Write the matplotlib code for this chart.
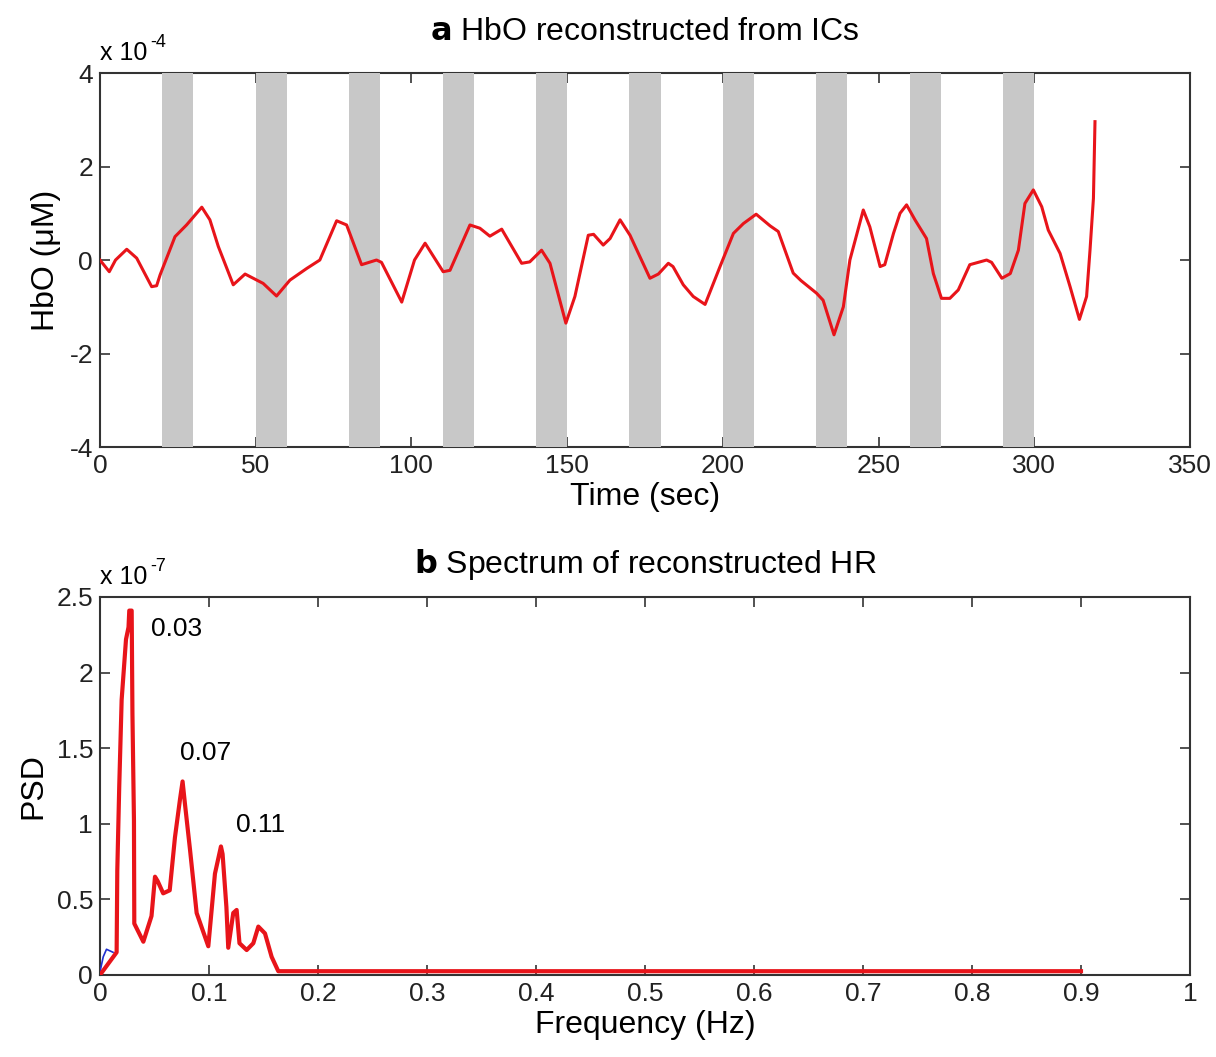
import matplotlib
matplotlib.use("Agg")
import matplotlib.pyplot as plt
import numpy as np

plt.rcParams['font.family'] = ['Liberation Sans', 'DejaVu Sans']
plt.rcParams['axes.unicode_minus'] = False

# panel a: HbO trace (units of 1e-4 uM)
time_sec = [0, 3, 5, 8.6, 11.8, 16.6, 18.2, 19.3, 24.1, 27.8, 32.7, 35.3, 38, 42.8,
            46.6, 52.4, 56.7, 61, 66.4, 70.6, 76, 79.2, 84, 88.8, 90.4, 96.9, 101,
            104.4, 110.2, 112.4, 118.8, 122, 125.2, 129, 135.4, 138, 141.8, 144.5,
            149.6, 152.5, 156.8, 158.5, 161.6, 163.8, 167, 170.2, 176.6, 179.3,
            182.5, 184, 187.3, 190.5, 194.3, 199.1, 203.4, 206.6, 210.7, 215.2,
            217.8, 222.6, 225.1, 230.1, 232.2, 235.7, 238.7, 240.8, 245.1, 247.2,
            250.5, 252, 254.8, 256.9, 259, 261.7, 265.4, 267.6, 270.2, 272.9,
            275.6, 279.3, 284.7, 286.3, 289.6, 292.3, 294.9, 297, 299.7, 302.4,
            304.5, 308.3, 311.5, 314.5, 316.8, 317.9, 319, 319.5]
hbo = [0.0, -0.25, 0.0, 0.23, 0.04, -0.57, -0.55, -0.32, 0.5, 0.75, 1.13, 0.86, 0.29,
       -0.53, -0.3, -0.5, -0.77, -0.43, -0.18, 0.0, 0.84, 0.75, -0.1, 0.0, -0.05,
       -0.9, 0.0, 0.36, -0.25, -0.22, 0.75, 0.68, 0.51, 0.66, -0.07, -0.04, 0.21,
       -0.07, -1.35, -0.78, 0.53, 0.55, 0.32, 0.46, 0.86, 0.53, -0.39, -0.3, -0.07,
       -0.14, -0.53, -0.78, -0.95, -0.14, 0.57, 0.78, 0.98, 0.73, 0.61, -0.28,
       -0.44, -0.71, -0.86, -1.6, -1.0, 0.0, 1.07, 0.71, -0.14, -0.1, 0.57, 1.0,
       1.18, 0.86, 0.46, -0.29, -0.82, -0.82, -0.64, -0.1, 0.0, -0.05, -0.39,
       -0.29, 0.21, 1.21, 1.5, 1.14, 0.64, 0.14, -0.57, -1.27, -0.78, 0.21, 1.32,
       2.96]

# task blocks (sec)
block_start = [20, 50, 80, 110, 140, 170, 200, 230, 260, 290]
block_len = 10

# panel b: spectrum (units of 1e-7)
freq_hz = [0, 0.0153, 0.0159, 0.0177, 0.0199, 0.0239, 0.0262, 0.0269, 0.0291,
           0.0298, 0.0312, 0.0315, 0.0398, 0.0473, 0.0505, 0.053, 0.058, 0.064,
           0.0688, 0.0734, 0.0758, 0.078, 0.0826, 0.0887, 0.0994, 0.1055, 0.111,
           0.1125, 0.116, 0.1177, 0.1223, 0.1254, 0.128, 0.1346, 0.1407, 0.1453,
           0.1514, 0.1575, 0.1636, 0.9]
psd = [0.0, 0.15, 0.69, 1.25, 1.82, 2.22, 2.3, 2.41, 2.41, 1.73, 1.02, 0.34, 0.22,
       0.39, 0.65, 0.62, 0.54, 0.56, 0.91, 1.16, 1.28, 1.13, 0.83, 0.41, 0.19, 0.67,
       0.85, 0.8, 0.45, 0.18, 0.41, 0.43, 0.21, 0.165, 0.21, 0.32, 0.275, 0.12,
       0.025, 0.025]
blue_f = [0, 0.003, 0.006, 0.012]
blue_psd = [0.02, 0.12, 0.17, 0.15]

peak_labels = ['0.03', '0.07', '0.11']
peak_pos = [(0.047, 2.29), (0.073, 1.47), (0.125, 0.99)]

fig = plt.figure(figsize=(12.16, 10.57), dpi=100)
ax1 = fig.add_axes([0.0822, 0.5771, 0.8964, 0.3538])
ax2 = fig.add_axes([0.0822, 0.0776, 0.8964, 0.3576])

for ax in (ax1, ax2):
    ax.tick_params(direction='in', top=True, right=True, labelsize=19, length=7,
                   width=1.2, colors='#333333', labelcolor='#222222', pad=5)
    for s in ax.spines.values():
        s.set_linewidth(1.5)
        s.set_color('#333333')


def offset_label(ax, exp):
    # MATLAB style "x 10^exp" above the y axis
    ax.text(0, 1.035, 'x 10', transform=ax.transAxes, fontsize=18)
    ax.text(0.046, 1.07, exp, transform=ax.transAxes, fontsize=13)


# top panel
for b in block_start:
    ax1.axvspan(b, b + block_len, color='#c8c8c8', lw=0, zorder=3, clip_on=False)
ax1.plot(time_sec, hbo, color='#e8141a', lw=2.2, zorder=4)
ax1.set_xlim(0, 350)
ax1.set_ylim(-4, 4)
ax1.set_yticks([-4, -2, 0, 2, 4])
ax1.set_xticks(range(0, 351, 50))
ax1.set_xlabel('Time (sec)', fontsize=23, labelpad=3)
ax1.set_ylabel('HbO (\u03bcM)', fontsize=23, labelpad=6)
offset_label(ax1, '-4')
ax1.text(0.5, 1.11, r'$\mathbf{a}$ HbO reconstructed from ICs', transform=ax1.transAxes,
         ha='center', va='center', fontsize=23)

# bottom panel
ax2.plot(blue_f, blue_psd, color='#2030d0', lw=1.2, zorder=3)
ax2.plot(freq_hz, psd, color='#e8141a', lw=3, zorder=4)
ax2.set_xlim(0, 1)
ax2.set_ylim(0, 2.5)
ax2.set_xticks(np.arange(0, 1.01, 0.1))
ax2.set_xticklabels(['0', '0.1', '0.2', '0.3', '0.4', '0.5', '0.6', '0.7', '0.8', '0.9', '1'])
ax2.set_yticks([0, 0.5, 1, 1.5, 2, 2.5])
ax2.set_yticklabels(['0', '0.5', '1', '1.5', '2', '2.5'])
ax2.set_xlabel('Frequency (Hz)', fontsize=23, labelpad=3)
ax2.set_ylabel('PSD', fontsize=23, labelpad=6)
offset_label(ax2, '-7')
ax2.text(0.5, 1.085, r'$\mathbf{b}$ Spectrum of reconstructed HR', transform=ax2.transAxes,
         ha='center', va='center', fontsize=23)
for lab, (fx, fy) in zip(peak_labels, peak_pos):
    ax2.text(fx, fy, lab, fontsize=19, va='center', ha='left')

fig.savefig('out.png', dpi=100)
